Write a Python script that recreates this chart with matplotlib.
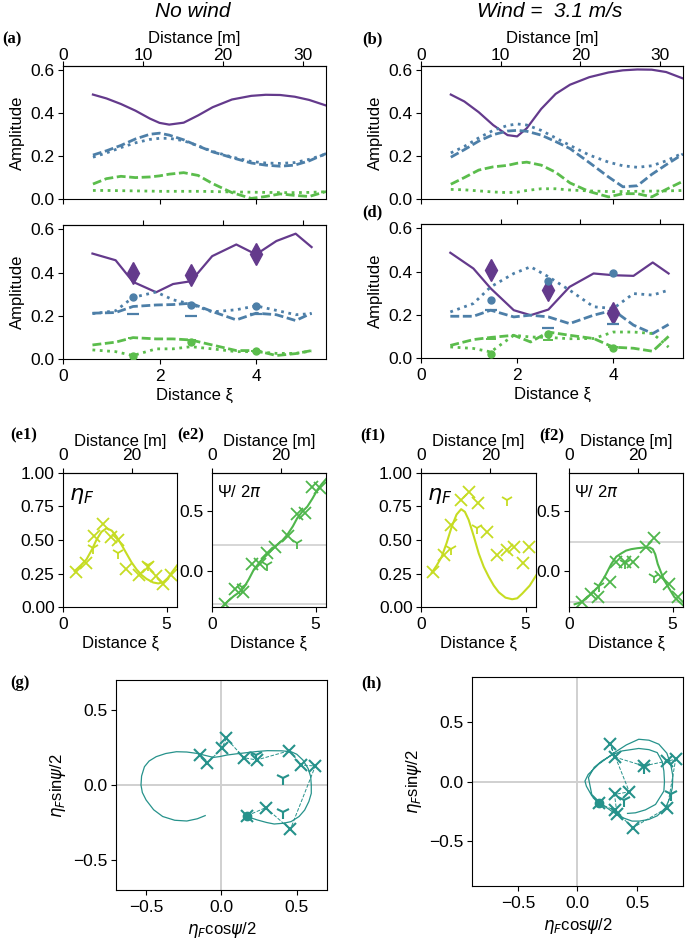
import matplotlib.pyplot as plt

plt.rcParams['font.family'] = ['Liberation Sans', 'DejaVu Sans']
plt.rcParams['font.size'] = 12
plt.rcParams['xtick.labelsize'] = 12.5
plt.rcParams['ytick.labelsize'] = 12.5
plt.rcParams['ytick.major.pad'] = 2.5
plt.rcParams['axes.labelsize'] = 12
plt.rcParams['mathtext.fontset'] = 'dejavusans'

PURPLE = '#643a8c'
BLUE = '#4d7fa8'
GREEN = '#5bbd4c'
YGREEN = '#c6dc22'
PGREEN = '#4fb64c'
TEAL = '#26928b'
GRAY = '#d0d0d0'

M_PER_XI = 6.03

# ---- (a), (b): fitted amplitudes, smooth curves
a_xi = [0.62, 0.9, 1.2, 1.5, 1.8, 2.0, 2.2, 2.5, 2.8, 3.1, 3.5, 3.9, 4.2, 4.5, 4.8, 5.1, 5.45]
a_purple = [0.487, 0.469, 0.443, 0.412, 0.375, 0.355, 0.347, 0.356, 0.39, 0.428, 0.464, 0.481, 0.486, 0.485, 0.477, 0.462, 0.436]
a_blue_dash = [0.205, 0.225, 0.25, 0.28, 0.302, 0.307, 0.298, 0.276, 0.247, 0.22, 0.193, 0.168, 0.158, 0.153, 0.158, 0.178, 0.212]
a_blue_dot = [0.195, 0.215, 0.24, 0.262, 0.278, 0.283, 0.283, 0.272, 0.248, 0.222, 0.196, 0.175, 0.168, 0.166, 0.17, 0.185, 0.21]
a_green_dash = [0.07, 0.095, 0.106, 0.1, 0.103, 0.108, 0.116, 0.123, 0.11, 0.072, 0.03, 0.003, 0.012, 0.024, 0.017, 0.012, 0.035]
a_green_dot = [0.04, 0.04, 0.039, 0.038, 0.037, 0.036, 0.036, 0.036, 0.036, 0.035, 0.033, 0.032, 0.031, 0.03, 0.03, 0.031, 0.034]

b_purple = [0.487, 0.455, 0.405, 0.345, 0.298, 0.292, 0.33, 0.42, 0.49, 0.533, 0.568, 0.59, 0.6, 0.604, 0.603, 0.592, 0.562]
b_blue_dash = [0.195, 0.23, 0.27, 0.3, 0.317, 0.32, 0.316, 0.298, 0.268, 0.235, 0.17, 0.103, 0.057, 0.062, 0.115, 0.16, 0.21]
b_blue_dot = [0.215, 0.245, 0.285, 0.32, 0.343, 0.35, 0.345, 0.32, 0.285, 0.25, 0.205, 0.172, 0.155, 0.148, 0.155, 0.178, 0.215]
b_green_dash = [0.069, 0.1, 0.135, 0.15, 0.157, 0.167, 0.172, 0.158, 0.125, 0.075, 0.035, 0.01, 0.025, 0.025, 0.01, 0.045, 0.083]
b_green_dot = [0.045, 0.043, 0.038, 0.033, 0.03, 0.032, 0.04, 0.048, 0.048, 0.042, 0.038, 0.035, 0.035, 0.036, 0.037, 0.038, 0.04]

# ---- (c), (d): measured amplitudes at gauges
c_xi = [0.61, 1.09, 1.45, 1.93, 2.28, 2.65, 3.09, 3.59, 4.0, 4.42, 4.82, 5.15]
c_purple = [0.488, 0.457, 0.357, 0.309, 0.347, 0.36, 0.476, 0.53, 0.484, 0.546, 0.58, 0.518]
c_blue_dash = [0.212, 0.215, 0.243, 0.25, 0.252, 0.258, 0.22, 0.181, 0.212, 0.205, 0.178, 0.212]
c_blue_dot = [0.21, 0.223, 0.285, 0.31, 0.274, 0.254, 0.218, 0.228, 0.246, 0.225, 0.205, 0.21]
c_green_dash = [0.065, 0.078, 0.099, 0.093, 0.093, 0.088, 0.065, 0.039, 0.039, 0.016, 0.025, 0.039]
c_green_dot = [0.042, 0.034, 0.016, 0.047, 0.047, 0.057, 0.047, 0.034, 0.034, 0.026, 0.026, 0.037]

d_purple = [0.487, 0.414, 0.322, 0.221, 0.198, 0.224, 0.329, 0.391, 0.383, 0.38, 0.442, 0.391]
d_blue_dash = [0.193, 0.193, 0.221, 0.19, 0.198, 0.19, 0.159, 0.198, 0.221, 0.152, 0.113, 0.155]
d_blue_dot = [0.213, 0.252, 0.329, 0.391, 0.422, 0.376, 0.314, 0.237, 0.229, 0.298, 0.291, 0.314]
d_green_dash = [0.058, 0.085, 0.095, 0.105, 0.074, 0.12, 0.105, 0.09, 0.05, 0.045, 0.031, 0.1]
d_green_dot = [0.051, 0.044, 0.028, 0.105, 0.097, 0.095, 0.089, 0.09, 0.12, 0.12, 0.113, 0.05]

mk_xi = [1.45, 2.65, 4.0]
c_diamond = [0.40, 0.39, 0.484]
c_blue_circle = [0.285, 0.25, 0.245]
c_blue_bar = [0.209, 0.2, 0.21]
c_green_circle = [0.015, 0.08, 0.038]
c_green_bar = [0.095, 0.088, 0.035]
d_diamond = [0.407, 0.314, 0.21]
d_blue_circle = [0.27, 0.355, 0.391]
d_blue_bar = [0.22, 0.139, 0.159]
d_green_circle = [0.018, 0.113, 0.045]
d_green_bar = [0.09, 0.082, 0.05]

# ---- (e1), (e2): no wind, eta_F and phase
e_xi = [0.65, 1.1, 1.5, 1.94, 2.31, 2.66, 3.06, 3.68, 4.11, 4.48, 4.84, 5.21]
e1_eta = [0.26, 0.325, 0.53, 0.62, 0.52, 0.50, 0.285, 0.236, 0.30, 0.23, 0.174, 0.238]
e2_psi = [-0.273, -0.15, -0.172, 0.063, 0.063, 0.15, 0.2, 0.287, 0.473, 0.478, 0.697, 0.683]
ey_xi = [1.45, 2.66, 4.11]
e1_eta_y = [0.44, 0.40, 0.31]
e2_psi_y = [-0.13, 0.055, 0.232]
e1_fit_xi = [0.56, 0.85, 1.13, 1.4, 1.61, 1.85, 2.1, 2.35, 2.58, 2.82, 3.06, 3.3, 3.55, 3.8, 4.03, 4.35, 4.6, 4.84, 5.05, 5.24, 5.5]
e1_fit = [0.268, 0.31, 0.355, 0.43, 0.50, 0.56, 0.588, 0.57, 0.526, 0.465, 0.40, 0.335, 0.28, 0.238, 0.21, 0.183, 0.176, 0.186, 0.215, 0.256, 0.31]
e2_fit_xi = [0.48, 0.75, 1.05, 1.3, 1.53, 1.78, 2.02, 2.35, 2.66, 2.9, 3.15, 3.4, 3.63, 3.9, 4.11, 4.35, 4.6, 4.85, 5.08, 5.3, 5.53]
e2_fit = [-0.3, -0.25, -0.205, -0.175, -0.137, -0.065, 0.014, 0.085, 0.137, 0.18, 0.219, 0.255, 0.30, 0.37, 0.437, 0.49, 0.533, 0.6, 0.67, 0.72, 0.765]
e2_levels = [0.219, -0.273]

# ---- (f1), (f2): wind 3.1 m/s
f1_xi = [0.59, 1.1, 1.44, 1.92, 2.28, 2.71, 3.16, 3.65, 4.09, 4.47, 4.87, 5.16]
f1_eta = [0.26, 0.39, 0.61, 0.80, 0.855, 0.775, 0.56, 0.39, 0.425, 0.445, 0.33, 0.445]
f2_xi = [0.63, 1.07, 1.39, 1.96, 2.28, 2.68, 3.08, 3.69, 4.12, 4.44, 4.84, 5.24]
f2_psi = [-0.253, -0.19, -0.212, -0.09, 0.073, 0.073, 0.073, 0.196, 0.272, -0.049, -0.103, -0.212]
fy_xi = [1.44, 2.68, 4.09]
f1_eta_y = [0.43, 0.59, 0.795]
f2_psi_y = [-0.125, 0.068, -0.049]
f1_fit_xi = [0.51, 0.75, 0.99, 1.23, 1.47, 1.7, 1.92, 2.1, 2.28, 2.52, 2.76, 3.0, 3.24, 3.48, 3.72, 4.04, 4.36, 4.6, 4.84, 5.2, 5.51]
f1_fit = [0.255, 0.31, 0.375, 0.48, 0.60, 0.69, 0.73, 0.71, 0.65, 0.53, 0.40, 0.30, 0.225, 0.16, 0.11, 0.07, 0.058, 0.065, 0.10, 0.16, 0.237]
f2_fit_xi = [0.27, 0.6, 1.07, 1.4, 1.71, 2.04, 2.28, 2.52, 2.75, 3.0, 3.3, 3.64, 3.9, 4.04, 4.16, 4.28, 4.44, 4.6, 4.84, 5.08, 5.3, 5.5]
f2_fit = [-0.272, -0.255, -0.185, -0.13, -0.049, 0.06, 0.12, 0.147, 0.17, 0.182, 0.19, 0.196, 0.195, 0.182, 0.14, 0.06, -0.01, -0.076, -0.145, -0.212, -0.25, -0.28]
f2_levels = [0.242, -0.253]

# ---- (g), (h): complex plane
g_x = [0.171, 0.294, 0.457, 0.623, 0.529, 0.451, 0.234, 0.149, 0.032, 0.003, -0.097, -0.142]
g_y = [-0.204, -0.151, -0.296, 0.127, 0.133, 0.229, 0.167, 0.182, 0.311, 0.244, 0.144, 0.2]
gy_x = [0.406, 0.406, 0.23]
gy_y = [-0.178, 0.044, 0.2]
gc_x = [0.171, 0.238, 0.30, 0.35, 0.41, 0.462, 0.515, 0.552, 0.58, 0.596, 0.596, 0.592, 0.575, 0.54, 0.50, 0.462, 0.40, 0.305,
        0.24, 0.171, 0.10, 0.037, -0.01, -0.053, -0.11, -0.164, -0.23, -0.299, -0.37, -0.433, -0.48, -0.511, -0.53, -0.534,
        -0.525, -0.50, -0.45, -0.39, -0.31, -0.23, -0.16, -0.108]
gc_y = [-0.211, -0.233, -0.25, -0.26, -0.255, -0.244, -0.21, -0.167, -0.11, -0.056, 0.0, 0.056, 0.11, 0.167, 0.205, 0.222, 0.228, 0.229,
        0.224, 0.216, 0.208, 0.2, 0.19, 0.184, 0.198, 0.211, 0.22, 0.222, 0.21, 0.189, 0.16, 0.122, 0.06, 0.0,
        -0.05, -0.1, -0.165, -0.21, -0.235, -0.24, -0.225, -0.204]

h_x = [0.182, 0.315, 0.463, 0.754, 0.824, 0.754, 0.556, 0.311, 0.275, 0.435, 0.311, 0.332]
h_y = [-0.186, -0.245, -0.392, -0.222, 0.188, 0.174, 0.132, 0.208, 0.316, -0.087, -0.109, -0.279]
hy_x = [0.387, 0.556, 0.782]
hy_y = [-0.16, 0.12, -0.109]
hc_x = [0.182, 0.12, 0.075, 0.063, 0.09, 0.177, 0.31, 0.41, 0.514, 0.6, 0.683, 0.75, 0.782, 0.8, 0.796, 0.775, 0.739, 0.67,
        0.599, 0.52, 0.458, 0.39, 0.3, 0.2, 0.12, 0.092, 0.14, 0.205, 0.29, 0.374, 0.514, 0.6, 0.669, 0.71, 0.725, 0.73,
        0.725, 0.655, 0.57, 0.486, 0.42]
hc_y = [-0.186, -0.12, -0.04, 0.004, 0.06, 0.146, 0.245, 0.31, 0.358, 0.35, 0.316, 0.24, 0.146, 0.05, -0.052, -0.14, -0.222, -0.29,
        -0.321, -0.335, -0.335, -0.31, -0.26, -0.19, -0.109, 0.033, 0.12, 0.174, 0.225, 0.259, 0.28, 0.27, 0.245, 0.17, 0.089, 0.0,
        -0.081, -0.194, -0.24, -0.265, -0.27]


def xi2m(x):
    return x * M_PER_XI


def m2xi(m):
    return m / M_PER_XI


def amp_panel(ax, xi, purple, bdash, bdot, gdash, gdot, top):
    ax.plot(xi, purple, color=PURPLE, lw=1.6)
    ax.plot(xi, bdash, color=BLUE, lw=2, ls=(0, (3.2, 1.3)))
    ax.plot(xi, bdot, color=BLUE, lw=2, ls=':')
    ax.plot(xi, gdash, color=GREEN, lw=2, ls=(0, (3.2, 1.3)))
    ax.plot(xi, gdot, color=GREEN, lw=2, ls=':')
    ax.set_xlim(0, 5.45)
    ax.set_ylim(0, 0.62)
    ax.set_yticks([0, 0.2, 0.4, 0.6])
    ax.set_ylabel('Amplitude')
    ax.set_xticks([0, 2, 4])
    sec = ax.secondary_xaxis('top', functions=(xi2m, m2xi))
    if top:
        sec.set_xticks([0, 10, 20, 30])
        sec.tick_params(pad=-1.0)
        sec.set_xlabel('Distance [m]', labelpad=3.5)
        ax.set_xticklabels([])
    else:
        sec.set_xticks([10, 20, 30])
        sec.set_xticklabels([])
        ax.set_xlabel('Distance ξ', labelpad=3)


def gauge_marks(ax, diamond, bcirc, bbar, gcirc, gbar):
    ax.plot(mk_xi, diamond, 'd', color=PURPLE, ms=11, zorder=5)
    ax.plot(mk_xi, bcirc, 'o', color=BLUE, ms=5, zorder=5)
    ax.plot(mk_xi, bbar, '_', color=BLUE, ms=8, mew=1.6, zorder=5)
    ax.plot(mk_xi, gcirc, 'o', color=GREEN, ms=5, zorder=5)
    ax.plot(mk_xi, gbar, '_', color=GREEN, ms=7, mew=1.4, zorder=5)


def small_panel(ax, fxi, fit, xi, vals, yxi, yvals, color):
    ax.plot(fxi, fit, color=color, lw=1.5)
    ax.plot(xi, vals, 'x', color=color, ms=8, mew=1.3)
    ax.plot(yxi, yvals, '1', color=color, ms=9, mew=1.3)
    ax.set_xlim(0, 5.5)
    ax.set_xticks([0, 5])
    ax.set_xlabel('Distance ξ', labelpad=3)
    sec = ax.secondary_xaxis('top', functions=(xi2m, m2xi))
    sec.set_xticks([0, 20])
    sec.set_xlabel('Distance [m]', labelpad=1.5)


def plane_panel(ax, cx, cy, px, py, yx, yy, lim):
    ax.axhline(0, color=GRAY, lw=1.4, zorder=0)
    ax.axvline(0, color=GRAY, lw=1.4, zorder=0)
    ax.plot(cx, cy, color=TEAL, lw=0.9)
    ax.plot(px, py, color=TEAL, lw=0.7, ls='--')
    ax.plot(px, py, 'x', color=TEAL, ms=8.5, mew=1.5)
    ax.plot(yx, yy, '1', color=TEAL, ms=10, mew=1.5)
    ax.plot(px[:1], py[:1], 'o', color=TEAL, ms=6)
    ax.set_xlim(-lim, lim)
    ax.set_ylim(-lim, lim)
    ax.set_xticks([-0.5, 0, 0.5])
    ax.set_yticks([-0.5, 0, 0.5])
    ax.set_xlabel(r'$\eta_F$cos$\psi$/2')
    ax.set_ylabel(r'$\eta_F$sin$\psi$/2')


fig = plt.figure(figsize=(6.85, 9.42), dpi=100)

ax_a = fig.add_axes([0.092, 0.7887, 0.384, 0.1412])
ax_c = fig.add_axes([0.092, 0.6189, 0.384, 0.1422])
ax_b = fig.add_axes([0.6146, 0.7887, 0.3825, 0.1412])
ax_d = fig.add_axes([0.6146, 0.6200, 0.3825, 0.1422])

amp_panel(ax_a, a_xi, a_purple, a_blue_dash, a_blue_dot, a_green_dash, a_green_dot, True)
amp_panel(ax_b, a_xi, b_purple, b_blue_dash, b_blue_dot, b_green_dash, b_green_dot, True)
amp_panel(ax_c, c_xi, c_purple, c_blue_dash, c_blue_dot, c_green_dash, c_green_dot, False)
amp_panel(ax_d, c_xi, d_purple, d_blue_dash, d_blue_dot, d_green_dash, d_green_dot, False)
gauge_marks(ax_c, c_diamond, c_blue_circle, c_blue_bar, c_green_circle, c_green_bar)
gauge_marks(ax_d, d_diamond, d_blue_circle, d_blue_bar, d_green_circle, d_green_bar)

ax_e1 = fig.add_axes([0.092, 0.3556, 0.1664, 0.1423])
ax_e2 = fig.add_axes([0.3095, 0.3556, 0.1664, 0.1423])
ax_f1 = fig.add_axes([0.6146, 0.3556, 0.1679, 0.1423])
ax_f2 = fig.add_axes([0.8307, 0.3556, 0.1664, 0.1423])

small_panel(ax_e1, e1_fit_xi, e1_fit, e_xi, e1_eta, ey_xi, e1_eta_y, YGREEN)
small_panel(ax_e2, e2_fit_xi, e2_fit, e_xi, e2_psi, ey_xi, e2_psi_y, PGREEN)
small_panel(ax_f1, f1_fit_xi, f1_fit, f1_xi, f1_eta, fy_xi, f1_eta_y, YGREEN)
small_panel(ax_f2, f2_fit_xi, f2_fit, f2_xi, f2_psi, fy_xi, f2_psi_y, PGREEN)

for ax in (ax_e1, ax_f1):
    ax.set_ylim(0, 1)
    ax.set_yticks([0, 0.25, 0.5, 0.75, 1.0])
    ax.text(0.05, 0.8, r'$\eta_F$', transform=ax.transAxes, fontsize=16)
for ax, lev in ((ax_e2, e2_levels), (ax_f2, f2_levels)):
    ax.set_ylim(-0.295, 0.81)
    ax.set_yticks([0.0, 0.5])
    for v in lev:
        ax.axhline(v, color=GRAY, lw=1.2, zorder=0)
    ax.text(0.04, 0.82, r'Ψ/ 2$\pi$', transform=ax.transAxes, fontsize=12)

ax_g = fig.add_axes([0.1693, 0.0552, 0.308, 0.2229])
ax_h = fig.add_axes([0.689, 0.0594, 0.308, 0.2219])
plane_panel(ax_g, gc_x, gc_y, g_x, g_y, gy_x, gy_y, 0.7)
plane_panel(ax_h, hc_x, hc_y, h_x, h_y, hy_x, hy_y, 0.885)

# column titles
fig.text(0.282, 1 - 17 / 942, 'No wind', ha='center', va='baseline', fontsize=15, style='italic')
fig.text(0.803, 1 - 17 / 942, 'Wind =  3.1 m/s', ha='center', va='baseline', fontsize=15, style='italic')

# panel letters
lab = dict(fontsize=12, fontweight='bold', family='Liberation Serif', va='center')
for s, x, y in [('(a)', 2, 39), ('(b)', 362, 39), ('(d)', 362, 212),
                ('(e1)', 10, 435), ('(e2)', 177, 435), ('(f1)', 360, 435), ('(f2)', 539, 435),
                ('(g)', 10, 683), ('(h)', 361, 683)]:
    fig.text(x / 685, 1 - y / 942, s, **lab)

fig.savefig('out.png', dpi=100)
